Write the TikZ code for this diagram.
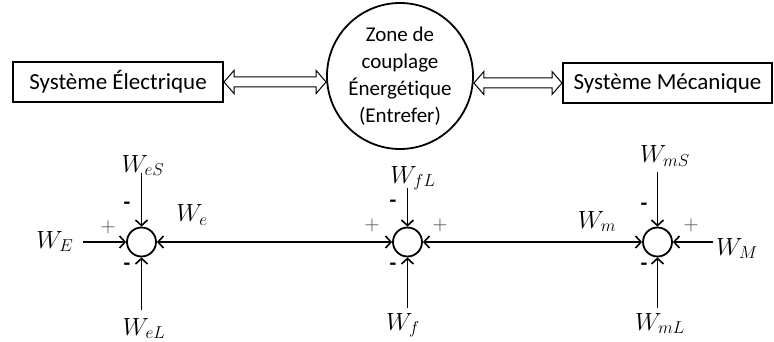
\documentclass[tikz,border=0pt]{standalone}
\usepackage{fontspec}
\setmainfont{Carlito}[Ligatures=NoCommon]
\usetikzlibrary{arrows.meta,calc}
\tikzset{
  sysbox/.style={draw,line width=2pt,minimum height=40pt,inner sep=0pt,font=\fontsize{23}{28}\selectfont},
  zone/.style={draw,circle,line width=1.8pt,minimum size=146pt,inner sep=0pt},
  zonetext/.style={align=center,font=\fontsize{21}{27}\selectfont},
  sumc/.style={draw,circle,line width=1.8pt,minimum size=29pt,inner sep=0pt},
  tip/.tip={Straight Barb[length=5.5pt,width=12pt,line width=1.6pt]},
  arr/.style={line width=1.8pt,-tip},
  darr/.style={line width=1.8pt,tip-tip},
  hollow/.style={line width=1pt,line join=miter},
  wlab/.style={anchor=base,inner sep=0pt,font=\fontsize{25}{29}\selectfont},
  plus/.style={inner sep=0pt,text=black!75,font=\fontsize{20}{24}\selectfont},
  minus/.style={inner sep=0pt,font=\fontsize{22}{24}\selectfont\bfseries},
}
\newcommand{\hollowarrow}[2]{%
  \draw[hollow] let \p1=(#1), \p2=(#2) in
    (\x1,\y1) -- (\x1+10pt,\y1+11.5pt) -- (\x1+10pt,\y1+5pt) -- (\x2-10pt,\y1+5pt)
    -- (\x2-10pt,\y1+11.5pt) -- (\x2,\y1) -- (\x2-10pt,\y1-11.5pt) -- (\x2-10pt,\y1-5pt)
    -- (\x1+10pt,\y1-5pt) -- (\x1+10pt,\y1-11.5pt) -- cycle;}
\begin{document}
\begin{tikzpicture}[x=1pt,y=-1pt]
\useasboundingbox (0,0) rectangle (774,342);
% top row
\node[sysbox,minimum width=210pt] (se) at (118,82) {Système Électrique};
\node[zone] (zone) at (400,76) {};
\node[zonetext] (zt) at (400,76) {Zone de\\couplage\\Énergétique\\(Entrefer)};
\node[sysbox,minimum width=209pt] (sm) at (667.5,83) {Système Mécanique};
\coordinate (zl) at (se.east -| zone.west);
\coordinate (zr) at (sm.west -| zone.east);
\hollowarrow{se.east}{zl}
\hollowarrow{zr}{sm.west}
% summing junctions
\node[sumc] (s1) at (141.5,242) {};
\node[sumc] (s2) at (407.5,242) {};
\node[sumc] (s3) at (657.5,242) {};
% free ends
\coordinate (e1t) at (141.5,173);
\coordinate (e1b) at (141.5,310);
\coordinate (e1l) at (83,242);
\coordinate (e2t) at (407.5,188);
\coordinate (e2b) at (407.5,308);
\coordinate (e3t) at (657.5,172);
\coordinate (e3b) at (657.5,308);
\coordinate (e3r) at (713,242);
% connectors
\draw[arr] (e1t) -- (s1.north);
\draw[arr] (e1b) -- (s1.south);
\draw[arr] (e1l) -- (s1.west);
\draw[darr] (s1.east) -- (s2.west);
\draw[arr] (e2t) -- (s2.north);
\draw[arr] (e2b) -- (s2.south);
\draw[darr] (s2.east) -- (s3.west);
\draw[arr] (e3t) -- (s3.north);
\draw[arr] (e3b) -- (s3.south);
\draw[arr] (e3r) -- (s3.east);
% labels
\node[wlab] (lWeS) at (143,172) {$W_{eS}$};
\node[wlab] (lWe) at (192,222) {$W_{e}$};
\node[wlab] (lWE) at (55,248) {$W_{E}$};
\node[wlab] (lWeL) at (144,335) {$W_{eL}$};
\node[wlab] (lWfL) at (413,183) {$W_{fL}$};
\node[wlab] (lWf) at (403,330) {$W_{f}$};
\node[wlab] (lWmS) at (665,163) {$W_{mS}$};
\node[wlab] (lWm) at (597,228) {$W_{m}$};
\node[wlab] (lWM) at (737,255) {$W_{M}$};
\node[wlab] (lWmL) at (660,330) {$W_{mL}$};
% signs
\node[minus] (m1t) at (127,206) {-};
\node[minus] (m1b) at (127,267) {-};
\node[plus] (p1) at (108,227) {$+$};
\node[minus] (m2t) at (393,204) {-};
\node[minus] (m2b) at (393,267) {-};
\node[plus] (p2l) at (372,225) {$+$};
\node[plus] (p2r) at (440,225) {$+$};
\node[minus] (m3t) at (644,207) {-};
\node[minus] (m3b) at (644,267) {-};
\node[plus] (p3) at (691,225) {$+$};
\end{tikzpicture}
\end{document}
